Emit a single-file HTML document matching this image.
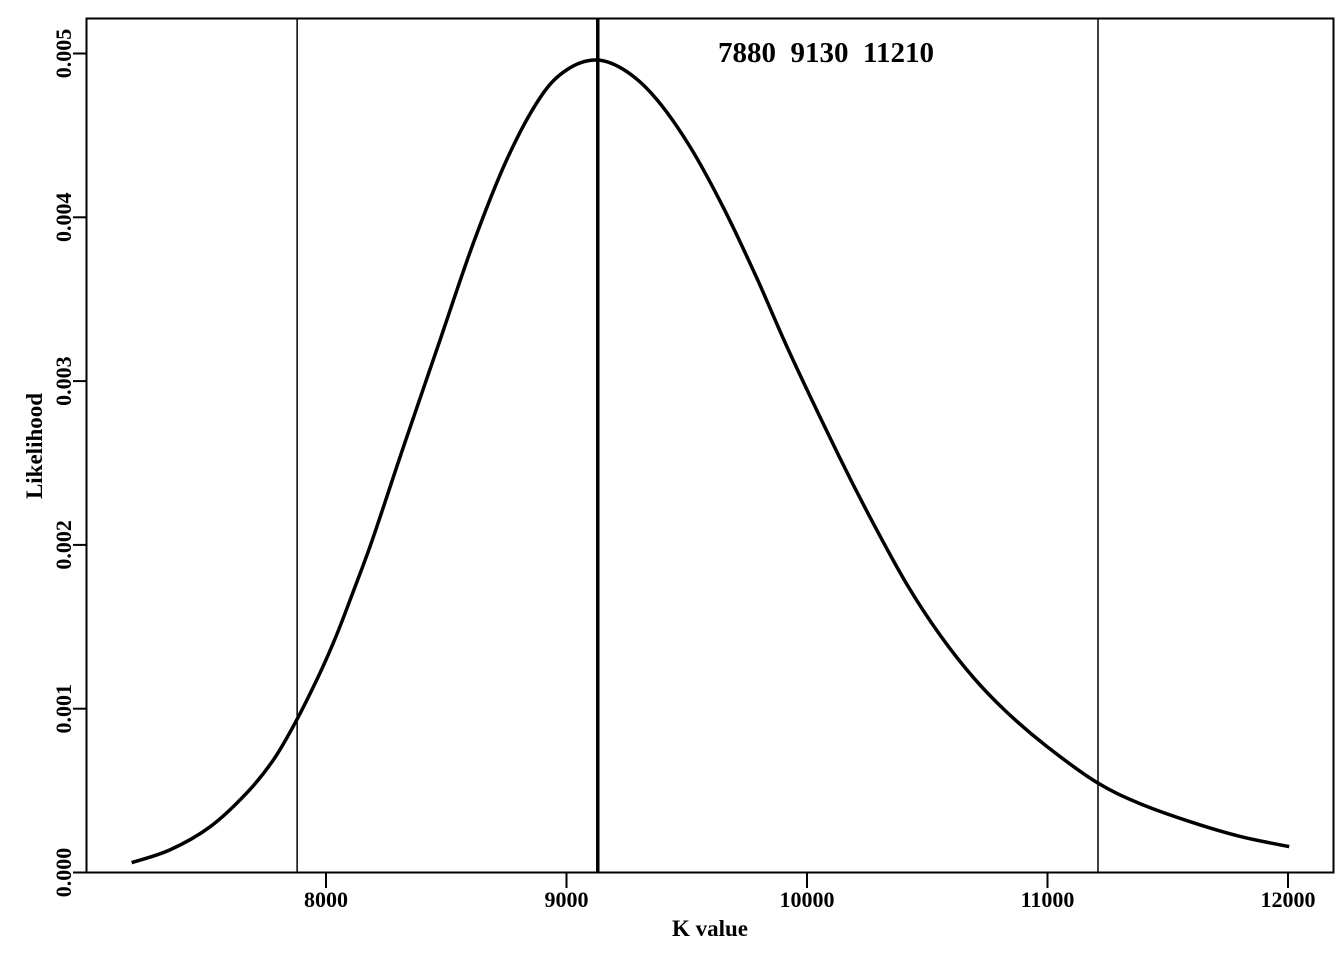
<!DOCTYPE html>
<html><head><meta charset="utf-8"><style>
body{margin:0;background:#fff}
svg text{font-family:"Liberation Serif",serif;font-weight:bold;fill:#000}
</style></head><body>
<svg id="chart" width="1344" height="960" xmlns="http://www.w3.org/2000/svg">
<rect x="86.5" y="18.5" width="1247" height="854" fill="none" stroke="#000" stroke-width="2"/>
<g id="xt"></g>
<g id="yt"></g>
<g id="vl"></g>
<path id="curve" fill="none" stroke="#000" stroke-width="3.5" stroke-linejoin="round"/>
<text x="826" y="62" font-size="29" text-anchor="middle" xml:space="preserve">7880  9130  11210</text>
<text x="710" y="936" font-size="23" text-anchor="middle">K value</text>
<text transform="translate(42,446) rotate(-90)" font-size="23" text-anchor="middle">Likelihood</text>
</svg>
<script>
const kValues=[7192,7351,7518,7670,7781,7874,7975,8044,8112,8183,8252,8320,8474,8612,8751,8890,9001,9126,9250,9375,9514,9652,9791,9929,10137,10276,10415,10553,10692,10830,10997,11205,11385,11593,11801,12005];
const likelihood=[0.000060,0.000138,0.000279,0.000485,0.000687,0.00092,0.001218,0.001450,0.001710,0.00199,0.00229,0.00259,0.00325,0.00384,0.00435,0.00473,0.00490,0.00496,0.00489,0.00472,0.00443,0.00406,0.00363,0.00317,0.00253,0.00213,0.00176,0.00145,0.00119,0.00098,0.00077,0.00055,0.00042,0.00031,0.00022,0.000158];
const xTicks=[8000,9000,10000,11000,12000];
const yTicks=[0,0.001,0.002,0.003,0.004,0.005];
const yTickLabels=["0.000","0.001","0.002","0.003","0.004","0.005"];
const intervalValues=[7880,9130,11210];
const intervalWidths=[1.5,3.5,1.5];
const NS="http://www.w3.org/2000/svg";
const X=v=>326+(v-8000)*(962/4000);
const Y=v=>872.5-v*(819/0.005);
function mk(tag,attrs,parent){const e=document.createElementNS(NS,tag);for(const k in attrs)e.setAttribute(k,attrs[k]);parent.appendChild(e);return e;}
const xt=document.getElementById('xt'),yt=document.getElementById('yt'),vl=document.getElementById('vl');
xTicks.forEach(t=>{
 const l=mk('line',{x1:X(t),x2:X(t),y1:872,y2:888,stroke:'#000','stroke-width':2},xt);
 
 
 const tx=mk('text',{x:X(t),y:907,'font-size':22,'text-anchor':'middle'},xt);
 tx.textContent=t;
 
 
});
yTicks.forEach((t,i)=>{
 const l=mk('line',{x1:73,x2:87,y1:Y(t),y2:Y(t),stroke:'#000','stroke-width':2},yt);
 
 
 const tx=mk('text',{transform:`translate(71,${Y(t)}) rotate(-90)`,'font-size':22,'text-anchor':'middle'},yt);
 tx.textContent=yTickLabels[i];
 
 
});
intervalValues.forEach((v,i)=>{
 const l=mk('line',{x1:X(v),x2:X(v),y1:18,y2:872,stroke:'#000','stroke-width':intervalWidths[i]},vl);
 
 
});
const pts=kValues.map((k,i)=>[X(k),Y(likelihood[i])]);
let d=`M${pts[0][0]},${pts[0][1]}`;
for(let i=0;i<pts.length-1;i++){
 const p0=pts[Math.max(0,i-1)],p1=pts[i],p2=pts[i+1],p3=pts[Math.min(pts.length-1,i+2)];
 const c1=[p1[0]+(p2[0]-p0[0])/6,p1[1]+(p2[1]-p0[1])/6];
 const c2=[p2[0]-(p3[0]-p1[0])/6,p2[1]-(p3[1]-p1[1])/6];
 d+=` C${c1[0]},${c1[1]} ${c2[0]},${c2[1]} ${p2[0]},${p2[1]}`;
}
document.getElementById('curve').setAttribute('d',d);
</script>
</body></html>
